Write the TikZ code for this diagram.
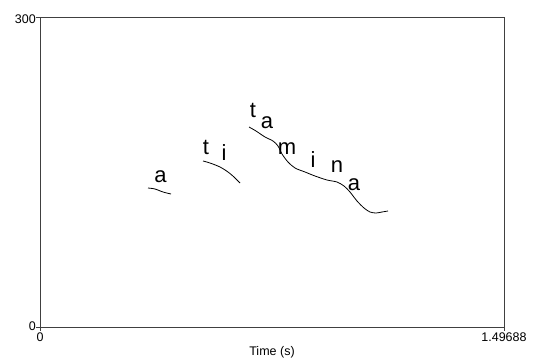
\documentclass[tikz,border=0pt]{standalone}
\usepackage{fontspec}
\setmainfont{Liberation Sans}
\usepackage{tikz}

\begin{document}
\begin{tikzpicture}[x=1pt, y=-1pt,
    axis/.style={draw=black!75, line width=1pt},
    pitch/.style={draw=black, line width=0.8pt},
    seg/.style={font=\fontsize{22}{22}\selectfont, inner sep=0pt},
    tick/.style={font=\fontsize{12.5}{13}\selectfont, inner sep=0pt}]
    \useasboundingbox (0,0) rectangle (535,361);
    % frame
    \coordinate (NW) at (40,18);
    \coordinate (NE) at (504,18);
    \coordinate (SW) at (40,327);
    \coordinate (SE) at (504,327);
    \draw[axis] (NW) -- (NE) -- (SE) -- (SW) -- cycle;
    \draw[axis] (NW) -- ++(-4,0);
    \draw[axis] (SW) -- ++(-4,0);
    \draw[axis] (SW) -- ++(0,4);
    \draw[axis] (SE) -- ++(0,4);
    \node[tick, anchor=east] (ymax) at (36,19){300};
    \node[tick, anchor=east] (ymin) at (36,326){0};
    \node[tick, anchor=north] (xmin) at (40,333){0};
    \node[tick, anchor=north] (xmax) at (504,333){1.49688};
    \node[tick, anchor=north] (xlab) at (272,346){Time (s)};
    % pitch track
    \draw[pitch] plot[smooth, tension=0.5] coordinates {(148,188) (155,189) (163,192) (171,194)};
    \draw[pitch] plot[smooth, tension=0.5] coordinates {(203,161) (210,163) (220,167) (228,172) (234,177) (240,183)};
    \draw[pitch] plot[smooth, tension=0.5] coordinates {(249,127) (256,131) (265,137) (273,141) (278,146) (282,154) (288,162) (295,168) (305,172) (315,176) (327,180) (337,182) (344,186) (350,192) (357,201) (364,208) (370,212) (376,213) (382,212) (388,211)};
    % segments
    \node[seg] (a1) at (160.5,177){a};
    \node[seg] (t1) at (206,147){t};
    \node[seg] (i1) at (224,153){i};
    \node[seg] (t2) at (253,110){t};
    \node[seg] (a2) at (267,123){a};
    \node[seg] (m) at (287,149){m};
    \node[seg] (i2) at (313,160){i};
    \node[seg] (n) at (337,167){n};
    \node[seg] (a3) at (354,185){a};
\end{tikzpicture}
\end{document}
